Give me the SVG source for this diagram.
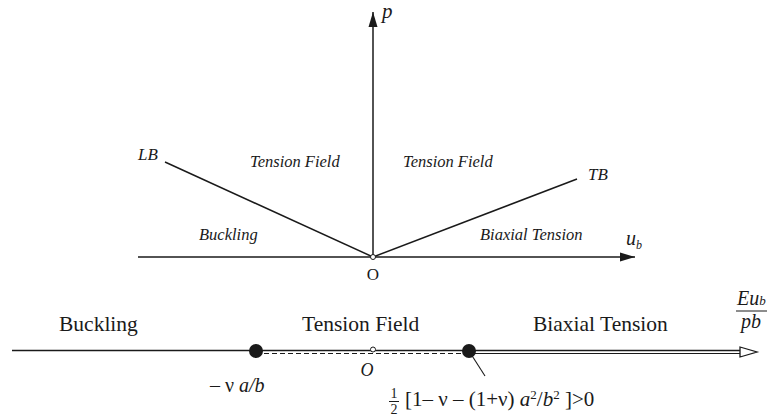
<svg xmlns="http://www.w3.org/2000/svg" width="768" height="416" viewBox="0 0 768 416">
<style>
.ln{stroke:#1a1a1a;stroke-width:1.5;fill:none}
.t{font-family:'Liberation Serif','Times New Roman',Times,'DejaVu Serif',serif;fill:#1a1a1a}
.i{font-style:italic}
.s16{font-size:16.5px}
.s20{font-size:20px}
.s21{font-size:21.5px}
</style>
<defs>
<marker id="ah" markerWidth="16" markerHeight="10" refX="15" refY="5" orient="auto" markerUnits="userSpaceOnUse">
<path d="M0,0.5 L15,5 L0,9.5 Z" fill="#1a1a1a"/>
</marker>
</defs>
<rect width="768" height="416" fill="#fff"/>
<g id="connectors">
<line class="ln" x1="373" y1="257" x2="373" y2="12" marker-end="url(#ah)"/>
<line class="ln" x1="138" y1="257" x2="635" y2="257" marker-end="url(#ah)"/>
<line class="ln" x1="165" y1="162" x2="373" y2="257"/>
<line class="ln" x1="373" y1="257" x2="577" y2="179"/>
<line x1="12" y1="350.5" x2="741" y2="350.5" stroke="#1a1a1a" stroke-width="1.3"/>
<line x1="256" y1="353.5" x2="469" y2="353.5" stroke="#1a1a1a" stroke-width="1.2" stroke-dasharray="5,3"/>
<line x1="469" y1="353.5" x2="741" y2="353.5" stroke="#1a1a1a" stroke-width="1.2"/>
<path d="M740,347 L757,352 L740,357 Z" fill="#fff" stroke="#1a1a1a" stroke-width="1.3"/>
<line x1="469" y1="351" x2="485" y2="376" stroke="#1a1a1a" stroke-width="1.1"/>
</g>
<g id="origin-top">
<circle cx="373" cy="257" r="2.5" fill="#fff" stroke="#1a1a1a" stroke-width="1"/>
<text class="t" x="373" y="280" font-size="17" text-anchor="middle">O</text>
</g>
<g id="axis-labels">
<text class="t i" x="382" y="18" font-size="21">p</text>
<text class="t i" x="626" y="245" font-size="20">u<tspan font-size="12" dy="4">b</tspan></text>
</g>
<g id="LB"><text class="t i" x="138" y="160" font-size="17">LB</text></g>
<g id="TB"><text class="t i" x="588" y="180" font-size="17">TB</text></g>
<g id="region-labels-top">
<text class="t i s16" x="250" y="167">Tension Field</text>
<text class="t i s16" x="403" y="167">Tension Field</text>
<text class="t i s16" x="199" y="240">Buckling</text>
<text class="t i s16" x="480" y="240">Biaxial Tension</text>
</g>
<g id="region-labels-bottom">
<text class="t s21" x="59" y="331">Buckling</text>
<text class="t s21" x="302" y="331">Tension Field</text>
<text class="t s21" x="533" y="331">Biaxial Tension</text>
</g>
<g id="point-left">
<circle cx="256" cy="351" r="7" fill="#1a1a1a"/>
<text class="t s20" x="210" y="392">– ν <tspan class="i">a/b</tspan></text>
</g>
<g id="point-origin">
<circle cx="373" cy="349.5" r="2.5" fill="#fff" stroke="#1a1a1a" stroke-width="1"/>
<text class="t i" x="367" y="376" font-size="18" text-anchor="middle">O</text>
</g>
<g id="point-right">
<circle cx="469" cy="351" r="7" fill="#1a1a1a"/>
<text class="t" x="394" y="398" font-size="14" text-anchor="middle">1</text>
<line x1="389" y1="401.5" x2="399" y2="401.5" stroke="#1a1a1a" stroke-width="1"/>
<text class="t" x="394" y="414" font-size="14" text-anchor="middle">2</text>
<text class="t" font-size="21" x="405" y="406">[1– ν – (1+ν) <tspan class="i">a</tspan><tspan font-size="13" dy="-7">2</tspan><tspan dy="7">/</tspan><tspan class="i">b</tspan><tspan font-size="13" dy="-7">2</tspan><tspan dy="7"> ]&gt;0</tspan></text>
</g>
<g id="axis-label-bottom">
<text class="t i s20" x="737" y="305">Eu<tspan font-size="13">b</tspan></text>
<line x1="736" y1="311" x2="767" y2="311" stroke="#1a1a1a" stroke-width="1"/>
<text class="t i s20" x="751" y="328" text-anchor="middle">pb</text>
</g>
</svg>
